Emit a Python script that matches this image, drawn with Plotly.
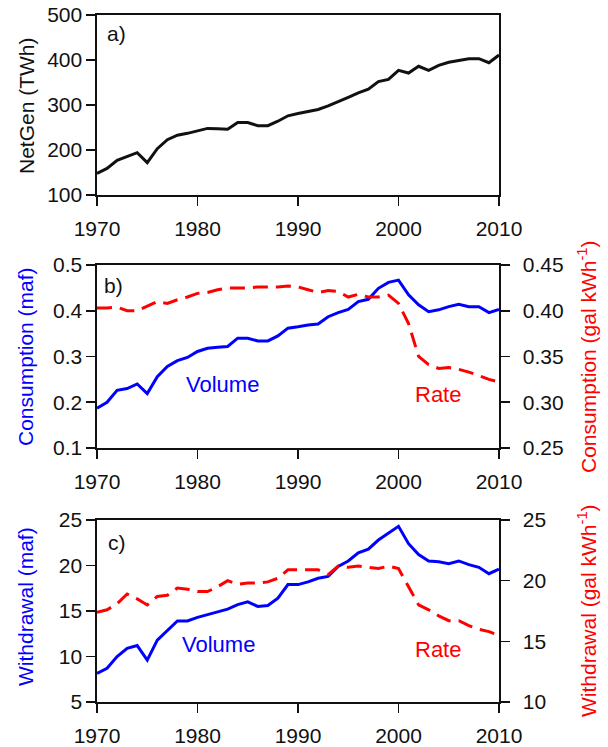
import plotly.graph_objects as go

years = list(range(1970, 2011))

netgen = [148, 159, 177, 186, 194, 172, 203, 223, 233, 237,
          242, 248, 247, 246, 261, 261, 254, 254, 264, 276,
          281, 285, 290, 298, 307, 317, 327, 335, 352, 357,
          377, 371, 386, 377, 388, 395, 399, 403, 403, 394, 411]

cons_volume = [0.187, 0.200, 0.226, 0.230, 0.240, 0.219, 0.256, 0.278, 0.291, 0.298,
               0.311, 0.318, 0.320, 0.322, 0.340, 0.340, 0.334, 0.334, 0.345, 0.362,
               0.365, 0.369, 0.371, 0.387, 0.396, 0.403, 0.420, 0.425, 0.449, 0.462,
               0.467, 0.435, 0.413, 0.398, 0.402, 0.409, 0.414, 0.409, 0.409, 0.396, 0.403]

cons_rate = [0.403, 0.403, 0.404, 0.400, 0.400, 0.405, 0.410, 0.408, 0.412, 0.415,
             0.419, 0.420, 0.423, 0.425, 0.425, 0.425, 0.426, 0.426, 0.426, 0.427,
             0.426, 0.423, 0.420, 0.422, 0.421, 0.415, 0.418, 0.415, 0.415, 0.417,
             0.408, 0.386, 0.350, 0.341, 0.337, 0.338, 0.336, 0.333, 0.329, 0.325, 0.322]

with_volume = [8.15, 8.7, 10.0, 10.9, 11.2, 9.6, 11.8, 12.9, 13.9, 13.9,
               14.3, 14.6, 14.9, 15.2, 15.7, 16.0, 15.5, 15.6, 16.4, 17.9,
               17.9, 18.2, 18.6, 18.8, 19.9, 20.5, 21.4, 21.8, 22.8, 23.6,
               24.3, 22.4, 21.2, 20.5, 20.4, 20.2, 20.5, 20.1, 19.8, 19.1, 19.6]

with_rate = [17.4, 17.6, 18.1, 18.9, 18.5, 18.0, 18.7, 18.8, 19.4, 19.3,
             19.1, 19.1, 19.5, 20.0, 19.7, 19.8, 19.8, 19.9, 20.2, 20.9,
             20.9, 20.9, 20.9, 20.5, 21.2, 21.1, 21.2, 21.1, 21.0, 21.2,
             21.0, 19.5, 18.0, 17.6, 17.1, 16.7, 16.7, 16.3, 16.0, 15.8, 15.5]

x_ticks = [1970, 1980, 1990, 2000, 2010]

BLUE = "#0000FF"
RED = "#FF0000"
BLACK = "#111111"
FONT = "Liberation Sans, Arial, sans-serif"

fig = go.Figure()
fig.add_trace(go.Scatter(x=years, y=netgen, mode="lines", xaxis="x", yaxis="y",
                         line=dict(color=BLACK, width=3), showlegend=False))
fig.add_trace(go.Scatter(x=years, y=cons_volume, mode="lines", xaxis="x2", yaxis="y2",
                         line=dict(color=BLUE, width=3), showlegend=False))
fig.add_trace(go.Scatter(x=years, y=cons_rate, mode="lines", xaxis="x2", yaxis="y3",
                         line=dict(color=RED, width=3, dash="15px,8px"), showlegend=False))
fig.add_trace(go.Scatter(x=years, y=with_volume, mode="lines", xaxis="x3", yaxis="y4",
                         line=dict(color=BLUE, width=3), showlegend=False))
fig.add_trace(go.Scatter(x=years, y=with_rate, mode="lines", xaxis="x3", yaxis="y5",
                         line=dict(color=RED, width=3, dash="15px,8px"), showlegend=False))

W, H = 608, 747
L, T = 97, 15
R, B = 608 - 499, 747 - 702
PH = H - T - B
PW = W - L - R


def py(p):
    return (H - B - p) / PH


def px(p):
    return (p - L) / PW


dom_a = [py(195), 1.0]
dom_b = [py(448), py(265)]
dom_c = [0.0, py(520)]

axis_common = dict(showline=True, linecolor=BLACK, linewidth=1.6, ticks="outside",
                   ticklen=9, tickwidth=1.6, tickcolor=BLACK, showgrid=False, zeroline=False,
                   automargin=False, ticklabeloverflow="allow",
                   tickfont=dict(size=21, color=BLACK, family=FONT))

xcommon = dict(axis_common, range=[1970, 2010], tickvals=x_ticks, mirror=True,
               ticklabelstandoff=5)

fig.update_layout(
    width=W, height=H,
    margin=dict(l=L, r=R, t=T, b=B, autoexpand=False),
    paper_bgcolor="white", plot_bgcolor="white",
    hovermode=False,
    font=dict(family=FONT, size=20, color=BLACK),
    xaxis=dict(xcommon, anchor="y", domain=[0, 1]),
    yaxis=dict(axis_common, domain=dom_a, anchor="x", range=[100, 500],
               tickvals=[100, 200, 300, 400, 500], mirror=True),
    xaxis2=dict(xcommon, anchor="y2", domain=[0, 1]),
    yaxis2=dict(axis_common, domain=dom_b, anchor="x2", range=[0.1, 0.5],
                tickvals=[0.1, 0.2, 0.3, 0.4, 0.5], tickformat=".1f"),
    yaxis3=dict(axis_common, overlaying="y2", side="right", anchor="x2", range=[0.25, 0.45],
                tickvals=[0.25, 0.30, 0.35, 0.40, 0.45], tickformat=".2f",
                ticklabelstandoff=9),
    xaxis3=dict(xcommon, anchor="y4", domain=[0, 1]),
    yaxis4=dict(axis_common, domain=dom_c, anchor="x3", range=[5, 25],
                tickvals=[5, 10, 15, 20, 25]),
    yaxis5=dict(axis_common, overlaying="y4", side="right", anchor="x3", range=[10, 25],
                tickvals=[10, 15, 20, 25], ticklabelstandoff=9),
)

ann = []


def add_text(text, x, y, color=BLACK, size=20, angle=0, xanchor="center"):
    ann.append(dict(text=text, x=x, y=y, xref="paper", yref="paper", showarrow=False,
                    xanchor=xanchor, yanchor="middle", textangle=angle,
                    font=dict(size=size, color=color, family=FONT)))


add_text("a)", px(105), py(34), size=21, xanchor="left")
add_text("b)", px(102), py(285), size=21, xanchor="left")
add_text("c)", px(106), py(542), size=21, xanchor="left")
add_text("Volume", px(222), py(384), color=BLUE, size=22)
add_text("Rate", px(438), py(394), color=RED, size=22)
add_text("Volume", px(218), py(644), color=BLUE, size=22)
add_text("Rate", px(438), py(649), color=RED, size=22)

add_text("NetGen (TWh)", px(26), py(106), size=21, angle=-90)
add_text("Consumption (maf)", px(25), py(357), color=BLUE, size=21, angle=-90)
add_text("Withdrawal (maf)", px(25), py(607), color=BLUE, size=21, angle=-90)
add_text("Consumption (gal kWh<sup>-1</sup>)", px(587), py(357), color=RED, size=21, angle=-90)
add_text("Withdrawal (gal kWh<sup>-1</sup>)", px(587), py(611), color=RED, size=21, angle=-90)

fig.update_layout(annotations=ann)

fig.write_html("out.html", config={"displayModeBar": False, "staticPlot": True},
               post_script="document.body.style.margin='0';document.body.style.overflow='hidden';")
